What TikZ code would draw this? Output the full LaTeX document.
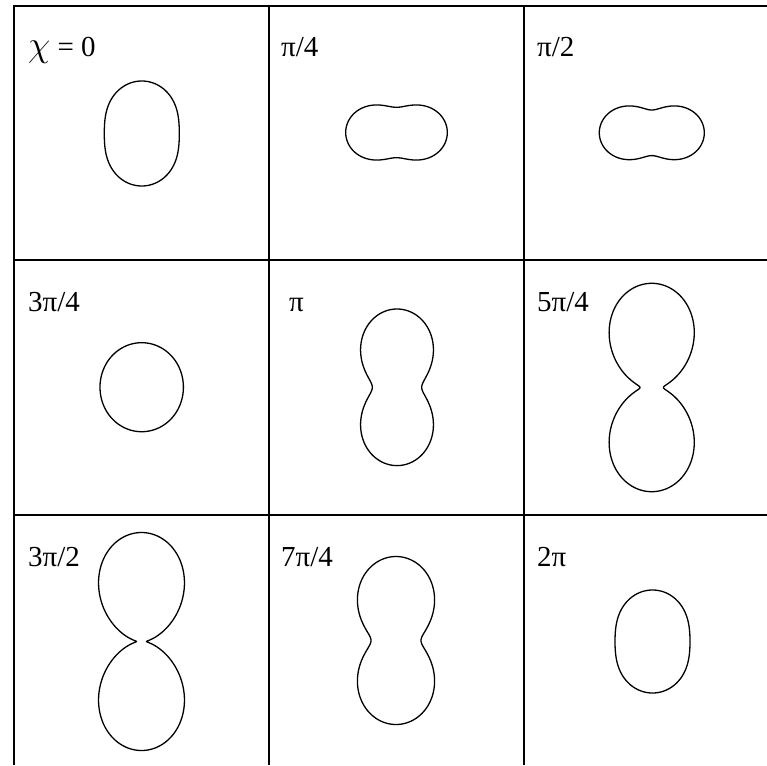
\documentclass[tikz,border=0pt]{standalone}
\usepackage{fontspec}
\setmainfont{Liberation Serif}
\newcommand\lobeV[4]{% cx cy a b : vertical pattern
  \draw[curve] plot[domain=0:360,samples=721,variable=\t]
    ({#1+(#3+#4*cos(\t)*cos(\t))*sin(\t)},{#2-(#3+#4*cos(\t)*cos(\t))*cos(\t)}) -- cycle;}
\newcommand\lobeH[4]{% cx cy a b : horizontal pattern
  \draw[curve] plot[domain=0:360,samples=721,variable=\t]
    ({#1+(#3+#4*cos(\t)*cos(\t))*cos(\t)},{#2-(#3+#4*cos(\t)*cos(\t))*sin(\t)}) -- cycle;}
\begin{document}
\begin{tikzpicture}[x=1pt,y=-1pt,
  grid/.style={line width=1.8pt,black},
  curve/.style={line width=1.3pt,black,line join=round},
  lbl/.style={anchor=base west,inner sep=0pt,font=\fontsize{29}{34}\selectfont}]
\useasboundingbox (0,0) rectangle (767,765);
% grid
\draw[grid] (14,765) -- (14,6) -- (767,6);
\draw[grid] (269,6) -- (269,765);
\draw[grid] (524,6) -- (524,765);
\draw[grid] (14,260) -- (767,260);
\draw[grid] (14,515) -- (767,515);
% labels
\node[lbl] (l1) at (28,57) {\scalebox{1.45}{$\chi$} = 0};
\node[lbl] (l2) at (281,57) {π/4};
\node[lbl] (l3) at (537,57) {π/2};
\node[lbl] (l4) at (28,311) {3π/4};
\node[lbl] (l5) at (289,311) {π};
\node[lbl] (l6) at (537,311) {5π/4};
\node[lbl] (l7) at (28,566) {3π/2};
\node[lbl] (l8) at (281,566) {7π/4};
\node[lbl] (l9) at (537,566) {2π};
% patterns
\lobeV{141.8}{133.5}{37.5}{15}
\lobeH{396.5}{132.5}{25.2}{25.6}
\lobeH{651.8}{132.8}{22.8}{29.7}
\lobeV{141.7}{387.2}{41.7}{2.8}
\lobeV{397}{387.3}{24.7}{53.6}
\lobeV{651.7}{387.5}{11.7}{92.5}
\lobeV{141.5}{641.5}{5}{104}
\lobeV{396}{640.5}{25}{59}
\lobeV{652.5}{641.5}{37.5}{14}
\end{tikzpicture}
\end{document}
